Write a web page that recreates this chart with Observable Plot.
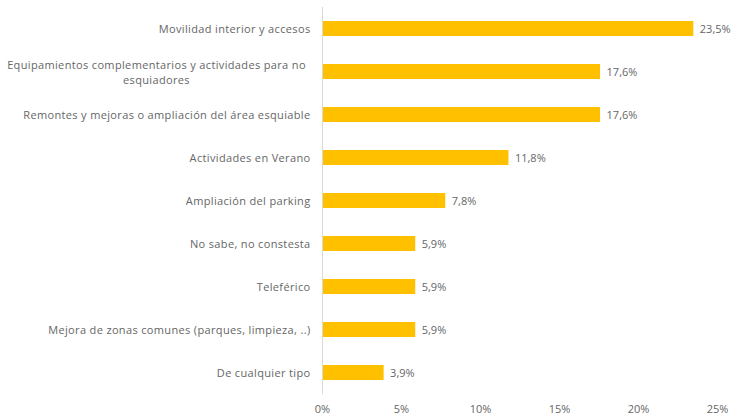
<!DOCTYPE html>
<html><head><meta charset="utf-8">
<script src="https://cdn.jsdelivr.net/npm/d3@7"></script>
<script src="https://cdn.jsdelivr.net/npm/@observablehq/plot@0.6"></script>
<style>
body{margin:0;background:#fff;}
#chart svg{font-family:"Open Sans",sans-serif;}
#chart svg g.catlabel text{letter-spacing:0.35px;}
</style>
</head><body><div id="chart"></div>
<script>
const categories = [
  "Movilidad interior y accesos",
  "Equipamientos complementarios y actividades para no\nesquiadores",
  "Remontes y mejoras o ampliación del área esquiable",
  "Actividades en Verano",
  "Ampliación del parking",
  "No sabe, no constesta",
  "Teleférico",
  "Mejora de zonas comunes (parques, limpieza, ..)",
  "De cualquier tipo"
];
const values = [0.235, 0.176, 0.176, 0.118, 0.078, 0.059, 0.059, 0.059, 0.039];
const xTicks = [0, 0.05, 0.10, 0.15, 0.20, 0.25];

const data = categories.map((c, i) => ({cat: c, value: values[i]}));
const fmtPct = v => (v * 100).toFixed(1).replace(".", ",") + "%";
const single = data.filter(d => !d.cat.includes("\n"));
const multi = data.filter(d => d.cat.includes("\n"));

const chart = Plot.plot({
  width: 734,
  height: 416,
  marginLeft: 322,
  marginRight: 17,
  marginTop: 7,
  marginBottom: 22,
  style: {fontSize: "11px", color: "#595959", background: "#fff"},
  x: {domain: [0, 0.25], ticks: xTicks, tickFormat: d => Math.round(d * 100) + "%", label: null},
  y: {domain: categories, paddingInner: 0.65, paddingOuter: 0.325, label: null},
  marks: [
    Plot.axisX({ticks: xTicks, tickFormat: d => Math.round(d * 100) + "%", tickSize: 0, tickPadding: 11, fill: "#666", label: null}),
    Plot.axisY({ticks: [], label: null}),
    Plot.barX(data, {y: "cat", x: "value", fill: "#FFC000"}),
    Plot.ruleX([0], {stroke: "#d9d9d9", strokeWidth: 1}),
    Plot.text(single, {y: "cat", text: "cat", frameAnchor: "left", textAnchor: "end", dx: -12, fill: "#666", fontSize: 11, className: "catlabel"}),
    Plot.text(multi, {y: "cat", text: "cat", frameAnchor: "left", textAnchor: "middle", dx: -166, fill: "#666", fontSize: 11, lineHeight: 1.36, className: "catlabel"}),
    Plot.text(data, {y: "cat", x: "value", text: d => fmtPct(d.value), textAnchor: "start", dx: 6, fill: "#666", fontSize: 11})
  ]
});
document.getElementById("chart").appendChild(chart);
</script>
</body></html>
